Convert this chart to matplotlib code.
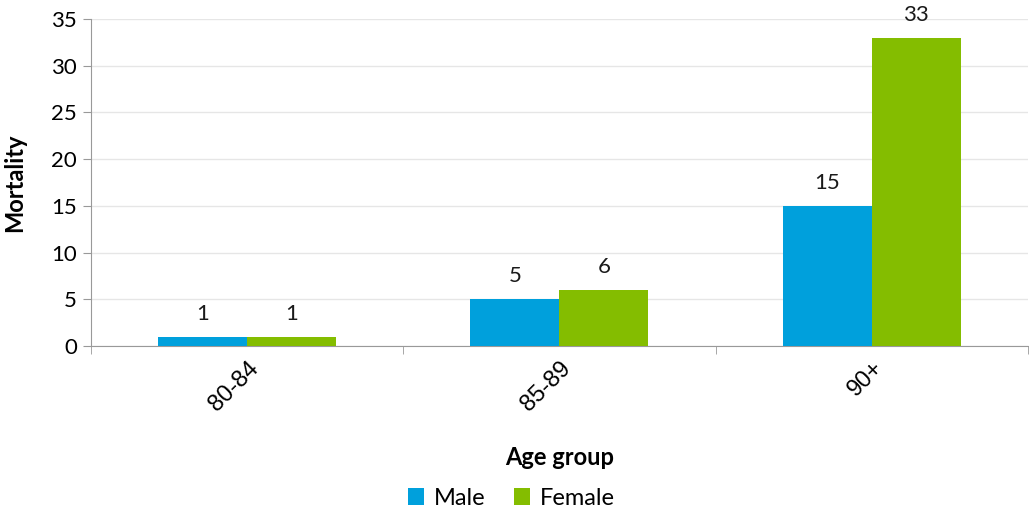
import matplotlib.pyplot as plt
import numpy as np

# ---- data -------------------------------------------------------------------
age_groups = ["80-84", "85-89", "90+"]
male = [1, 5, 15]
female = [1, 6, 33]

MALE_COLOR = "#00A0DC"
FEMALE_COLOR = "#84BD00"

plt.rcParams["font.family"] = ["Lato", "DejaVu Sans"]

fig = plt.figure(figsize=(10.29, 5.11), dpi=100)
ax = fig.add_axes([0.0884, 0.323, 0.9106, 0.640])

x = np.arange(len(age_groups))
w = 0.285

b1 = ax.bar(x - w / 2, male, width=w, color=MALE_COLOR, label="Male", zorder=3)
b2 = ax.bar(x + w / 2, female, width=w, color=FEMALE_COLOR, label="Female", zorder=3)

# value labels above bars
for bars in (b1, b2):
    for rect in bars:
        h = rect.get_height()
        ax.text(rect.get_x() + rect.get_width() / 2, h + 1.4, f"{h:g}",
                ha="center", va="bottom", fontsize=16, color="#1a1a1a")

ax.set_xlim(-0.5, len(age_groups) - 0.5)
ax.set_ylim(0, 35)
ax.set_yticks(range(0, 36, 5))
ax.tick_params(axis="y", labelsize=16, length=6, color="#999999", pad=4)

# category labels rotated, tick marks between categories
ax.set_xticks(x)
ax.set_xticklabels(age_groups, rotation=45, ha="right", rotation_mode="anchor",
                   fontsize=17, family="Liberation Sans")
ax.tick_params(axis="x", length=0, pad=8)
ax.set_xticks(np.arange(-0.5, len(age_groups)), minor=True)
ax.tick_params(axis="x", which="minor", length=6, color="#999999")

ax.grid(axis="y", color="#e6e6e6", linewidth=1, zorder=0)
for side in ("top", "right"):
    ax.spines[side].set_visible(False)
for side in ("left", "bottom"):
    ax.spines[side].set_color("#999999")

ax.set_ylabel("Mortality", fontsize=17, fontweight="bold", labelpad=18)
ax.set_xlabel("Age group", fontsize=17, fontweight="bold", labelpad=22)

fig.legend(handles=[b1, b2], loc="center", bbox_to_anchor=(0.497, 0.025),
           ncol=2, frameon=False, fontsize=17, handlelength=0.7, handleheight=0.7,
           columnspacing=1.2, handletextpad=0.4)

fig.savefig("out.png", dpi=100)
